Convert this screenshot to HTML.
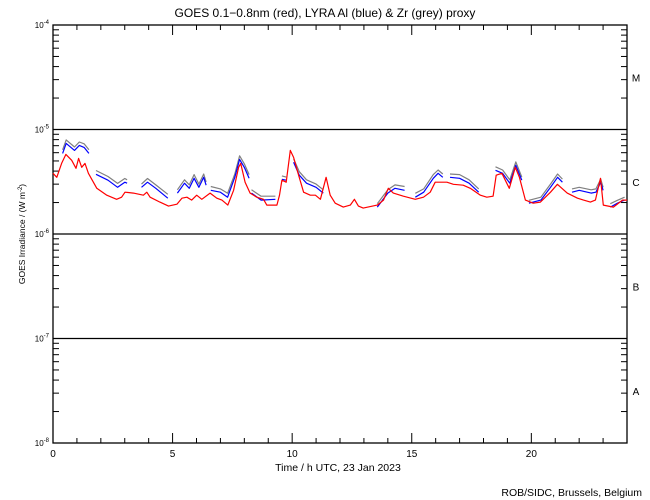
<!DOCTYPE html>
<html><head><meta charset="utf-8"><style>
body{margin:0;background:#fff;}
svg{display:block;font-family:"Liberation Sans",sans-serif;}
</style></head><body>
<svg id="chart" width="650" height="500" viewBox="0 0 650 500" xmlns="http://www.w3.org/2000/svg">
<text x="325" y="17" text-anchor="middle" font-size="12">GOES 0.1−0.8nm (red), LYRA Al (blue) &amp; Zr (grey) proxy</text>
<g id="axes"></g>
<g id="series"></g>
<text x="338" y="471" text-anchor="middle" font-size="10.5">Time / h UTC, 23 Jan 2023</text>
<text transform="translate(25,234) rotate(-90)" text-anchor="middle" font-size="8.5">GOES Irradiance / (W m<tspan dy="-3" font-size="6">-2</tspan><tspan dy="3">)</tspan></text>
<text x="642" y="496" text-anchor="end" font-size="10.5">ROB/SIDC, Brussels, Belgium</text>
</svg>
<script>
// Data (flux in units of 1e-6 W/m^2)
const redHours=[0,0.16,0.36,0.54,0.78,0.96,1.07,1.2,1.34,1.48,1.83,2.25,2.66,2.87,3.01,3.36,3.78,3.92,4.06,4.47,4.83,5.18,5.39,5.6,5.8,6.01,6.22,6.57,6.85,7.06,7.31,7.55,7.76,7.85,8.03,8.24,8.52,8.8,8.94,9.36,9.47,9.57,9.75,9.92,10.06,10.27,10.48,10.76,10.97,11.18,11.42,11.59,11.8,12.14,12.43,12.6,12.77,12.97,13.56,13.82,14.02,14.23,14.65,15.15,15.49,15.77,15.98,16.47,16.74,17.15,17.45,17.87,18.14,18.4,18.53,18.77,19.08,19.33,19.5,19.75,20.08,20.38,20.8,21.09,21.5,21.93,22.18,22.47,22.68,22.89,23.01,23.43,23.81,24];
const redVals=[3.81,3.49,4.74,5.78,5.07,4.25,5.29,4.35,4.74,3.81,2.74,2.35,2.15,2.25,2.51,2.46,2.35,2.51,2.25,2.02,1.85,1.93,2.20,2.25,2.11,2.35,2.15,2.46,2.20,2.11,1.89,2.62,4.35,4.74,3.13,2.46,2.25,2.15,1.89,1.89,2.35,3.27,3.13,6.31,5.41,3.65,2.51,2.35,2.35,2.15,3.49,2.35,1.97,1.81,1.89,2.15,1.85,1.77,1.89,2.11,2.74,2.46,2.30,2.15,2.25,2.51,3.13,3.13,2.99,2.93,2.74,2.35,2.25,2.30,3.65,3.81,2.74,4.35,3.49,2.11,1.97,2.02,2.51,2.99,2.46,2.20,2.11,2.02,2.11,3.41,1.89,1.81,2.11,2.11];
const blueHours=[0.4,0.55,0.9,1.1,1.3,1.5,null,1.8,2.3,2.7,3.0,3.1,null,3.7,3.95,4.3,4.8,null,5.2,5.5,5.7,5.9,6.1,6.3,6.4,null,6.6,7.0,7.3,7.6,7.8,8.0,8.2,null,8.3,8.7,9.3,null,9.57,9.75,null,10.06,10.3,10.6,11.0,11.3,null,13.56,14.0,14.3,14.7,null,15.15,15.5,15.9,16.1,16.3,null,16.6,17.0,17.4,17.8,null,18.5,18.8,19.1,19.35,19.6,null,19.9,20.4,20.8,21.1,21.3,null,21.7,22.0,22.5,22.7,22.9,23.0,null,23.3,23.6,23.9];
const blueVals=[5.91,7.36,6.31,7.05,6.74,5.91,null,3.73,3.27,2.80,3.13,3.06,null,2.80,3.13,2.74,2.20,null,2.46,3.06,2.74,3.41,2.80,3.49,2.93,null,2.62,2.51,2.25,3.49,5.18,4.35,3.41,null,2.46,2.11,2.15,null,3.34,3.27,null,4.85,3.65,3.06,2.80,2.46,null,1.81,2.46,2.74,2.62,null,2.25,2.51,3.41,3.81,3.49,null,3.49,3.41,3.06,2.51,null,4.07,3.81,3.06,4.54,3.27,null,1.97,2.11,2.80,3.49,3.13,null,2.51,2.62,2.46,2.51,3.13,2.62,null,1.81,1.97,2.11];
const greyVals=[6.4,7.95,6.8,7.6,7.3,6.4,null,4.05,3.55,3.05,3.4,3.3,null,3.0,3.4,2.95,2.4,null,2.65,3.3,2.95,3.7,3.0,3.75,3.15,null,2.85,2.7,2.45,3.75,5.6,4.7,3.7,null,2.65,2.3,2.3,null,3.6,3.5,null,5.25,3.95,3.3,3.0,2.65,null,1.95,2.65,2.95,2.85,null,2.45,2.7,3.7,4.1,3.75,null,3.75,3.7,3.3,2.7,null,4.4,4.1,3.3,4.9,3.5,null,2.1,2.25,3.0,3.75,3.35,null,2.7,2.8,2.65,2.7,3.35,2.8,null,1.95,2.1,2.25];
const xTickLabels=["0","5","10","15","20"];
const yTickLabels=["-8","-7","-6","-5","-4"];
const classLabels=["A","B","C","M"];

const X0=53,X1=627,Y0=443,Y1=25;
const NS="http://www.w3.org/2000/svg";
function xs(h){return X0+(h/24)*(X1-X0);}
function ys(v){const e=Math.log10(v*1e-6);return Y0-(e+8)/4*(Y0-Y1);}
function mk(tag,attrs,parent){const e=document.createElementNS(NS,tag);for(const k in attrs)e.setAttribute(k,attrs[k]);parent.appendChild(e);return e;}
const ax=document.getElementById('axes'),sr=document.getElementById('series');

const frame=mk('rect',{x:X0,y:Y1,width:X1-X0,height:Y0-Y1,fill:'none',stroke:'#000','stroke-width':1.3},ax);



for(let d=-8;d<=-4;d++){
  const y=ys(Math.pow(10,d)*1e6);
  const lab=mk('text',{x:49,y:y+3,'text-anchor':'end','font-size':8},ax);
  
  
  lab.innerHTML='10<tspan dy="-4" font-size="6">'+yTickLabels[d+8]+'</tspan>';
  if(d>-8&&d<-4){
    const gl=mk('line',{x1:X0,x2:X1,y1:y,y2:y,stroke:'#000','stroke-width':1.2},ax);
    
    
  }
  if(d<-4){
    for(let m=2;m<=9;m++){
      const yy=ys(m*Math.pow(10,d)*1e6);
      const t1=mk('line',{x1:X0,x2:X0+6,y1:yy,y2:yy,stroke:'#000'},ax);
      
      
      const t2=mk('line',{x1:X1-6,x2:X1,y1:yy,y2:yy,stroke:'#000'},ax);
      
      
    }
    const cl=mk('text',{x:636,y:ys(Math.sqrt(10)*Math.pow(10,d)*1e6)+4,'text-anchor':'middle','font-size':10},ax);
    
    
    cl.textContent=classLabels[d+8];
  }
}
for(let h=0;h<=24;h++){
  const x=xs(h),L=(h%5===0)?10:5;
  const t=mk('line',{x1:x,x2:x,y1:Y0,y2:Y0-L,stroke:'#000'},ax);
  
  
  const t2=mk('line',{x1:x,x2:x,y1:Y1,y2:Y1+L,stroke:'#000'},ax);
  
  
  if(h%5===0){
    const lab=mk('text',{x:x,y:457,'text-anchor':'middle','font-size':10},ax);
    
    
    lab.textContent=xTickLabels[h/5];
  }
}
function drawSeries(hours,vals,color,name){
  let segs=[],cur=[];
  for(let i=0;i<hours.length;i++){
    if(hours[i]===null||vals[i]===null){if(cur.length)segs.push(cur);cur=[];continue;}
    cur.push(xs(hours[i]).toFixed(1)+','+ys(vals[i]).toFixed(1));
  }
  if(cur.length)segs.push(cur);
  segs.forEach(s=>{
    const p=mk('polyline',{points:s.join(' '),fill:'none',stroke:color,'stroke-width':1.2,'stroke-linejoin':'round'},sr);
    
    
  });
}
drawSeries(blueHours,greyVals,'#808080','zr-proxy-line');
drawSeries(blueHours,blueVals,'#0000ff','al-proxy-line');
drawSeries(redHours,redVals,'#ff0000','goes-xray-line');
</script>
</body></html>
